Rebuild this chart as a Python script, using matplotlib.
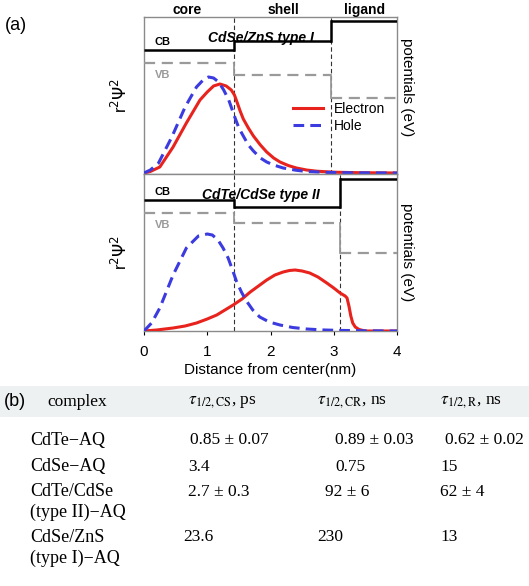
import matplotlib
matplotlib.use('Agg')
import matplotlib.pyplot as plt
from matplotlib.patches import Rectangle

plt.rcParams['font.family'] = ['Liberation Sans', 'DejaVu Sans']
plt.rcParams['mathtext.fontset'] = 'stix'

W, H = 529, 586

# ---- panel (a) data (arbitrary units) ----
# band edges (nm) and levels
edges_I = [0, 1.42, 2.95, 4]
cb_I = [123, 132, 152]
vb_I = [110, 98, 75]

edges_II = [0, 1.42, 3.1, 4]
cb_II = [131, 124, 152]
vb_II = [118, 108, 78]

# CdSe/ZnS type I wavefunctions
e1_x = [0, 0.1, 0.25, 0.46, 0.67, 0.885, 1.0, 1.1, 1.2, 1.3, 1.38, 1.43, 1.47, 1.52, 1.57, 1.65,
        1.73, 1.84, 1.94, 2.05, 2.15, 2.28, 2.41, 2.57, 2.73, 3.0, 3.4, 4.0]
e1_y = [0, 1.5, 6, 26, 50, 73, 81, 87, 89, 87, 83, 78, 71, 62, 54, 45,
        37, 28, 21, 15, 11, 7.5, 5, 3, 1.8, 0.8, 0.3, 0]
h1_x = [0, 0.1, 0.23, 0.44, 0.65, 0.83, 0.95, 1.02, 1.1, 1.18, 1.26, 1.34, 1.44, 1.5, 1.57, 1.65,
        1.73, 1.84, 1.94, 2.05, 2.2, 2.4, 2.57, 2.9, 3.3, 4.0]
h1_y = [0, 3, 10, 36, 66, 86, 94, 96, 95, 91, 83, 73, 55, 45, 37, 28,
        22, 15, 11, 8, 5, 2.8, 1.5, 0.6, 0.2, 0]

# CdTe/CdSe type II wavefunctions
e2_x = [0, 0.2, 0.46, 0.65, 0.83, 1.0, 1.15, 1.28, 1.41, 1.55, 1.68, 1.81, 1.94, 2.07, 2.2,
        2.3, 2.39, 2.5, 2.62, 2.75, 2.89, 3.0, 3.1, 3.18, 3.21, 3.24, 3.27, 3.3, 3.34, 3.4, 3.5, 4.0]
e2_y = [0, 1, 3, 5, 8, 12, 16, 21, 26, 32, 39, 45, 51, 56, 59,
        60.5, 61, 60, 58, 54, 48, 43, 38, 35, 33, 25, 15, 8, 4, 1.5, 0, 0]
h2_x = [0, 0.12, 0.25, 0.46, 0.67, 0.86, 1.0, 1.08, 1.17, 1.25, 1.33, 1.4, 1.46, 1.54, 1.62, 1.72,
        1.83, 1.98, 2.15, 2.35, 2.57, 2.85, 3.1, 3.5, 4.0]
h2_y = [0, 8, 23, 56, 83, 95, 97, 96, 91, 83, 73, 61, 50, 39, 30, 21,
        14, 9, 6, 3.5, 2, 1, 0.6, 0.2, 0]

x_ticks = [0, 1, 2, 3, 4]
region_labels = ['core', 'shell', 'ligand']
region_x = [0.68, 2.2, 3.48]

# ---- panel (b) table ----
col_heads = ['complex', r'$\tau_{1/2,\mathrm{CS}}$, ps', r'$\tau_{1/2,\mathrm{CR}}$, ns', r'$\tau_{1/2,\mathrm{R}}$, ns']
row_lines = ['CdTe\u2212AQ', 'CdSe\u2212AQ', 'CdTe/CdSe', '(type II)\u2212AQ', 'CdSe/ZnS', '(type I)\u2212AQ']
tau_cs = ['0.85 \u00b1 0.07', '3.4', '2.7 \u00b1 0.3', '', '23.6', '']
tau_cr = ['0.89 \u00b1 0.03', '0.75', '92 \u00b1 6', '', '230', '']
tau_r = ['0.62 \u00b1 0.02', '15', '62 \u00b1 4', '', '13', '']


def fx(px):
    return px / W


def fy(py):
    return 1 - py / H


fig = plt.figure(figsize=(W / 100, H / 100), dpi=100)

ax1 = fig.add_axes([fx(144), fy(174), fx(397) - fx(144), (174 - 17) / H])
ax2 = fig.add_axes([fx(144), fy(331), fx(397) - fx(144), (331 - 174) / H])


def draw_panel(ax, edges, cb, vb, ex, ey, hx, hy, title, ylim):
    for i in range(3):
        ax.plot([edges[i], edges[i + 1]], [cb[i], cb[i]], color='black', lw=1.8, solid_capstyle='butt', zorder=3)
        ax.plot([edges[i], edges[i + 1]], [vb[i], vb[i]], color='#9a9a9a', lw=1.6, dashes=(5, 3), zorder=3)
    for i in (1, 2):
        ax.plot([edges[i], edges[i]], [cb[i - 1], cb[i]], color='black', lw=1.8, zorder=3)
        ax.plot([edges[i], edges[i]], [vb[i - 1], vb[i]], color='#9a9a9a', lw=1.3, zorder=3)
        ax.axvline(edges[i], color='#333333', lw=0.8, dashes=(4, 2.5), zorder=1)
    ax.plot(ex, ey, color='#e8231d', lw=2.2, label='Electron', zorder=4)
    ax.plot(hx, hy, color='#3b3be0', lw=2.2, dashes=(3.5, 2), label='Hole', zorder=5)
    ax.set_xlim(0, 4)
    ax.set_ylim(*ylim)
    ax.set_yticks([])
    ax.set_xticks(x_ticks)
    ax.tick_params(axis='x', length=3, width=0.8, direction='out', labelsize=11, pad=7)
    for s in ax.spines.values():
        s.set_color('#8a8a8a')
        s.set_linewidth(1.0)
    ax.text(0.17, cb[0] + 8, 'CB', fontsize=8, fontweight='bold', va='center')
    ax.text(0.17, vb[0] - 12, 'VB', fontsize=8, fontweight='bold', color='#9a9a9a', va='center')
    ax.text(1.85, ylim[1] - 21, title, fontsize=10, fontweight='bold', style='italic',
            ha='center', va='center')
    ax.set_ylabel(r'r$^2$$\Psi^2$', fontsize=12, math_fontfamily='dejavusans')
    ax.yaxis.set_label_coords(-0.055, 0.5)


draw_panel(ax1, edges_I, cb_I, vb_I, e1_x, e1_y, h1_x, h1_y, 'CdSe/ZnS type I', (-1, 156))
draw_panel(ax2, edges_II, cb_II, vb_II, e2_x, e2_y, h2_x, h2_y, 'CdTe/CdSe type II', (0, 157))
ax1.set_xticklabels([])
ax2.set_xlabel('Distance from center(nm)', fontsize=11, labelpad=3)

ax1.legend(loc='center left', bbox_to_anchor=(0.56, 0.36), frameon=False, fontsize=10,
           handlelength=2.2, handletextpad=0.8, labelspacing=0.2, borderpad=0)

fig.text(fx(407), fy(87), 'potentials (eV)', rotation=-90, fontsize=11, ha='center', va='center')
fig.text(fx(407), fy(252), 'potentials (eV)', rotation=-90, fontsize=11, ha='center', va='center')

for lab, xv in zip(region_labels, region_x):
    ax1.text(xv, 1.0, lab, transform=ax1.get_xaxis_transform(), fontsize=10, fontweight='bold',
             ha='center', va='bottom')

fig.text(fx(5), fy(25), '(a)', fontsize=13, va='center')

# ---- table ----
fig.patches.append(Rectangle((0, fy(417)), 1, (417 - 386) / H, transform=fig.transFigure,
                             facecolor='#eef1f1', edgecolor='none', zorder=0))
fig.text(fx(4), fy(402), '(b)', fontsize=13, va='center')

serif = ['Liberation Serif', 'DejaVu Serif']
head_x = [47, 188, 317, 440]
for h, xv in zip(col_heads, head_x):
    fig.text(fx(xv), fy(402), h, fontsize=12.5, family=serif, va='center')

row_y = [440, 467, 492, 512, 537, 558]
cs_x = [190, 188, 188, 188, 183, 183]
cr_x = [335, 335, 325, 325, 317, 317]
r_x = [445, 440, 440, 440, 440, 440]
for i, yv in enumerate(row_y):
    fig.text(fx(30), fy(yv), row_lines[i], fontsize=13, family=serif, va='center')
    fig.text(fx(cs_x[i]), fy(yv), tau_cs[i], fontsize=12.5, family=serif, va='center')
    fig.text(fx(cr_x[i]), fy(yv), tau_cr[i], fontsize=12.5, family=serif, va='center')
    fig.text(fx(r_x[i]), fy(yv), tau_r[i], fontsize=12.5, family=serif, va='center')

fig.savefig('out.png', dpi=100)
